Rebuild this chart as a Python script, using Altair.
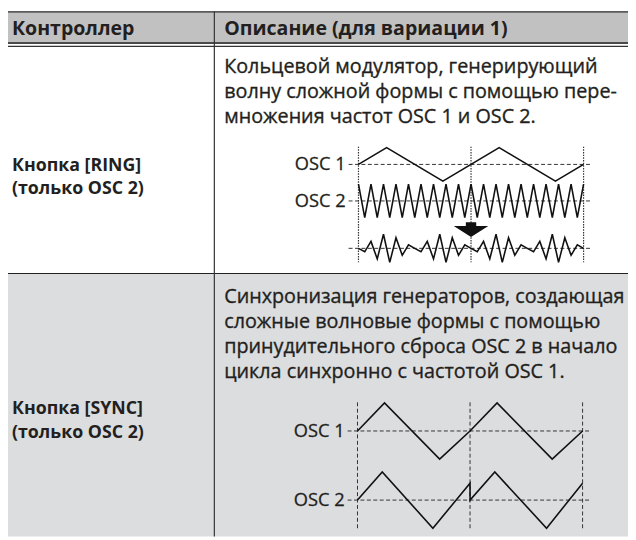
import altair as alt
import pandas as pd

# ---------------- data (text and waveform values) ----------------
header_texts = ["Контроллер", "Описание (для вариации 1)"]
controller_lines = [
    ["Кнопка [RING]", "(только OSC 2)"],
    ["Кнопка [SYNC]", "(только OSC 2)"],
]
desc_lines = [
    ["Кольцевой модулятор, генерирующий",
     "волну сложной формы с помощью пере-",
     "множения частот OSC 1 и OSC 2."],
    ["Синхронизация генераторов, создающая",
     "сложные волновые формы с помощью",
     "принудительного сброса OSC 2 в начало",
     "цикла синхронно с частотой OSC 1."],
]
osc_labels = ["OSC 1", "OSC 2"]

# waveform vertices: time in OSC1 periods, value in -1..1
ring_osc1_t = [0, 0.25, 0.75, 1.25, 1.75, 2.0]
ring_osc1_v = [0, 1, -1, 1, -1, 0]
ring_osc2_v = [1, -1, 1, -1, 1, -1, 1, -1, 1, -1, 1, -1, 1, -1, 1, -1, 1, -1,
               1, -1, 1, -1, 1, -1, 1, -1, 1, -1, 1, -1, 1, -1, 1, -1, 1, -1, 1]
ring_out_v = [0, -0.22, 0.44, -0.67, 0.89, -0.89, 0.67, -0.44, 0.22,
              0, -0.22, 0.44, -0.67, 0.89, -0.89, 0.67, -0.44, 0.22,
              0, -0.22, 0.44, -0.67, 0.89, -0.89, 0.67, -0.44, 0.22,
              0, -0.22, 0.44, -0.67, 0.89, -0.89, 0.67, -0.44, 0.22, 0]
sync_osc1_t = [0, 0.24, 0.73, 1.0, 1.24, 1.73, 2.0]
sync_osc1_v = [0, 1, -1, 0, 1, -1, 0]
sync_osc2_t = [0, 0.22, 0.67, 1.0, 1.0, 1.22, 1.68, 2.0]
sync_osc2_v = [0, 1, -1, 0.6, 0, 1, -1, 0.6]

# ---------------- layout ----------------
TXT = "#231f20"
FONT = "Open Sans"
X0, X1, Y0, Y1 = 8, 636, 8, 540
COL = 217
HDR_B = 40
ROW_SEP = 273.5

ring_wave = dict(x0=363, per=114, ys=[163, 200, 248], amps=[17, 17, 16])
sync_wave = dict(x0=362, per=114, ys=[433, 503], amps=[28.5, 28.5])

xs = alt.Scale(domain=[X0, X1], nice=False, zero=False)
ys = alt.Scale(domain=[Y1, Y0], nice=False, zero=False)


def X(f="x"):
    return alt.X(f"{f}:Q", scale=xs, axis=None)


def Y(f="y"):
    return alt.Y(f"{f}:Q", scale=ys, axis=None)


# backgrounds
bg = pd.DataFrame([
    dict(x=X0, x2=X1, y=Y0, y2=HDR_B, c="#c1c1c1"),
    dict(x=X0, x2=X1, y=ROW_SEP, y2=Y1, c="#dcdddf"),
])
bg_layer = alt.Chart(bg).mark_rect().encode(
    x=X(), x2="x2:Q", y=Y(), y2="y2:Q",
    color=alt.Color("c:N", scale=None))

# table rules
rules = pd.DataFrame([
    dict(x=X0, x2=X1, y=Y0 + 0.5, y2=Y0 + 0.5, w=2, c="#5a5a5a"),
    dict(x=X0, x2=X1, y=HDR_B, y2=HDR_B, w=2, c="#4a4a4a"),
    dict(x=X0, x2=X1, y=43.5, y2=43.5, w=1.2, c="#333333"),
    dict(x=X0, x2=X1, y=ROW_SEP, y2=ROW_SEP, w=1.2, c="#222222"),
    dict(x=COL, x2=COL, y=Y0, y2=Y1, w=1.2, c="#333333"),
])
rule_layer = alt.Chart(rules).mark_rule().encode(
    x=X(), x2="x2:Q", y=Y(), y2="y2:Q",
    color=alt.Color("c:N", scale=None),
    strokeWidth=alt.StrokeWidth("w:Q", scale=None))

# texts
rows = []
for i, t in enumerate(header_texts):
    rows.append(dict(x=[12, 227][i], y=25.5, t=t, kind="hdr"))
ctrl_y = [[165, 188], [411, 435]]
desc_y0 = [64, 297]
for r in range(2):
    for j, t in enumerate(controller_lines[r]):
        rows.append(dict(x=12, y=ctrl_y[r][j], t=t, kind="ctrl"))
    for j, t in enumerate(desc_lines[r]):
        rows.append(dict(x=227, y=desc_y0[r] + j * 25.6, t=t, kind="desc"))
tdf = pd.DataFrame(rows)

hdr_layer = alt.Chart(tdf[tdf.kind == "hdr"]).mark_text(
    align="left", baseline="middle", font=FONT, fontSize=19.8, fontWeight="bold", color=TXT
).encode(x=X(), y=Y(), text="t:N")
ctrl_layer = alt.Chart(tdf[tdf.kind == "ctrl"]).mark_text(
    align="left", baseline="middle", font=FONT, fontSize=18, fontWeight="bold", color=TXT
).encode(x=X(), y=Y(), text="t:N")
desc_layer = alt.Chart(tdf[tdf.kind == "desc"]).mark_text(
    align="left", baseline="middle", font=FONT, fontSize=20, color=TXT,
    stroke=TXT, strokeWidth=0.35
).encode(x=X(), y=Y(), text="t:N")

osc_rows = []
for wave in (ring_wave, sync_wave):
    for k, lab in enumerate(osc_labels):
        osc_rows.append(dict(x=wave["x0"] - 13, y=wave["ys"][k], t=lab))
osc_layer = alt.Chart(pd.DataFrame(osc_rows)).mark_text(
    align="right", baseline="middle", font=FONT, fontSize=18.5, color=TXT,
    stroke=TXT, strokeWidth=0.3
).encode(x=X(), y=Y(), text="t:N")

# guide lines of the diagrams
hguides = []
for wave in (ring_wave, sync_wave):
    for yy in wave["ys"]:
        hguides.append(dict(x=wave["x0"] - 10, x2=wave["x0"] + 2 * wave["per"] + 8, y=yy, y2=yy))
hguide_layer = alt.Chart(pd.DataFrame(hguides)).mark_rule(
    color="#333333", strokeWidth=1, strokeDash=[4, 2.5]
).encode(x=X(), x2="x2:Q", y=Y(), y2="y2:Q")

vring = [dict(x=ring_wave["x0"] + k * ring_wave["per"], x2=ring_wave["x0"] + k * ring_wave["per"],
              y=145, y2=262) for k in range(3)]
vring_layer = alt.Chart(pd.DataFrame(vring)).mark_rule(
    color="#333333", strokeWidth=1.2, strokeDash=[1.5, 1.2]
).encode(x=X(), x2="x2:Q", y=Y(), y2="y2:Q")
vsync = [dict(x=sync_wave["x0"] + k * sync_wave["per"], x2=sync_wave["x0"] + k * sync_wave["per"],
              y=404, y2=533) for k in range(3)]
vsync_layer = alt.Chart(pd.DataFrame(vsync)).mark_rule(
    color="#333333", strokeWidth=1, strokeDash=[4, 2.5]
).encode(x=X(), x2="x2:Q", y=Y(), y2="y2:Q")

# waveforms
ring_t = [i / 18 for i in range(len(ring_osc2_v))]
wrows = []


def add(series, ts, vs, wave, k):
    for o, (t, v) in enumerate(zip(ts, vs)):
        wrows.append(dict(s=series, o=o,
                          x=wave["x0"] + t * wave["per"],
                          y=wave["ys"][k] - v * wave["amps"][k]))


add("r1", ring_osc1_t, ring_osc1_v, ring_wave, 0)
add("r2", ring_t, ring_osc2_v, ring_wave, 1)
add("r3", ring_t, ring_out_v, ring_wave, 2)
add("s1", sync_osc1_t, sync_osc1_v, sync_wave, 0)
add("s2", sync_osc2_t, sync_osc2_v, sync_wave, 1)
wave_layer = alt.Chart(pd.DataFrame(wrows)).mark_line(
    color="#111111", strokeWidth=1.6, strokeJoin="miter"
).encode(x=X(), y=Y(), detail="s:N", order="o:Q")

# arrow between OSC 2 and result
arrow_path = "M -0.3 -0.43 L 0.3 -0.43 L 0.3 -0.2 L 1 -0.2 L 0 0.43 L -1 -0.2 L -0.3 -0.2 Z"
arrow_layer = alt.Chart(pd.DataFrame([dict(x=ring_wave["x0"] + ring_wave["per"], y=229)])).mark_point(
    shape=arrow_path, filled=True, color="#111111", size=1225, opacity=1, strokeWidth=0
).encode(x=X(), y=Y())

chart = alt.layer(
    bg_layer, rule_layer, hguide_layer, vring_layer, vsync_layer, wave_layer, arrow_layer,
    hdr_layer, ctrl_layer, desc_layer, osc_layer
).properties(
    width=X1 - X0, height=Y1 - Y0, padding=0, autosize=alt.AutoSizeParams(type="none"),
    background="white"
).configure_view(stroke=None)

chart.save("out.html", embed_options={"renderer": "svg", "actions": False})
